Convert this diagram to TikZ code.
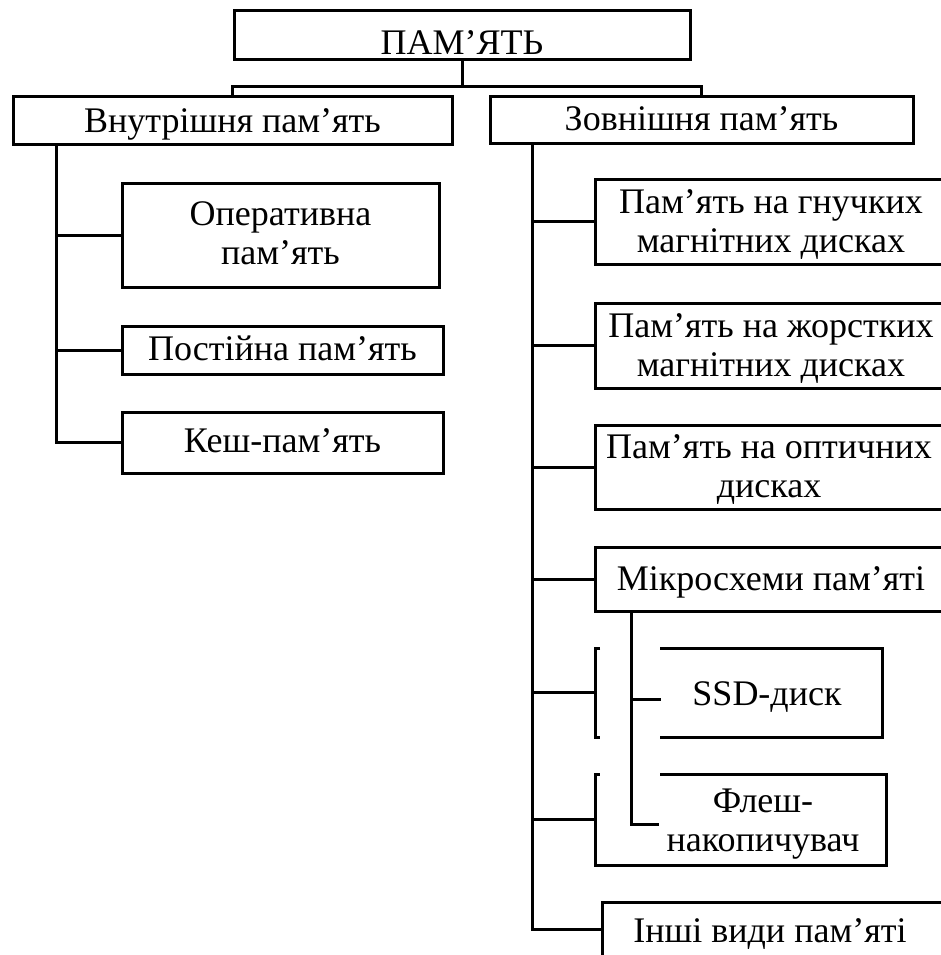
\documentclass[tikz,border=0pt]{standalone}
\usepackage{fontspec}
\setmainfont{Liberation Serif}[Ligatures=Common]
\begin{document}
\begin{tikzpicture}[x=1pt,y=-1pt,line width=3pt,
  txt/.style={font=\fontsize{36}{39}\selectfont, inner sep=0pt, outer sep=0pt, anchor=base, align=center},
  frame/.style={draw, rectangle, inner sep=0pt, outer sep=0pt},
  area/.style={rectangle, inner sep=0pt, outer sep=0pt}]
\useasboundingbox (0,0) rectangle (941,955);
\clip (0,0) rectangle (941,955);
% closed boxes
\node[frame, minimum width=456pt, minimum height=49pt] (top) at (462,35.5) {};
\node[frame, minimum width=439pt, minimum height=47pt] (L) at (232.5,120.5) {};
\node[frame, minimum width=423pt, minimum height=46pt] (R) at (701.5,120) {};
\node[frame, minimum width=317pt, minimum height=104pt] (op) at (280.5,235) {};
\node[frame, minimum width=321pt, minimum height=48pt] (post) at (282.5,350) {};
\node[frame, minimum width=321pt, minimum height=61pt] (kesh) at (282.5,442.5) {};
% open boxes (areas)
\node[area, minimum width=346pt, minimum height=85pt] (b1) at (768,221.5) {};
\node[area, minimum width=346pt, minimum height=85pt] (b2) at (768,345.5) {};
\node[area, minimum width=346pt, minimum height=84pt] (b3) at (768,467) {};
\node[area, minimum width=346pt, minimum height=64pt] (mik) at (768,579) {};
\node[area, minimum width=287pt, minimum height=89pt] (ssd) at (738.5,692.5) {};
\node[area, minimum width=291pt, minimum height=91pt] (fl) at (740.5,819.5) {};
\node[area, minimum width=339pt, minimum height=54pt] (oth) at (771.5,929) {};
% texts (base = baseline of last line)
\node[txt] (ttop) at (462,55) {ПАМ’ЯТЬ};
\node[txt] (tL) at (232.5,132) {Внутрішня пам’ять};
\node[txt] (tR) at (701.5,131) {Зовнішня пам’ять};
\node[txt] (top-t) at (280.5,264) {Оперативна\\пам’ять};
\node[txt] (tpost) at (282.5,360) {Постійна пам’ять};
\node[txt] (tkesh) at (282.5,452) {Кеш-пам’ять};
\node[txt] (tb1) at (771,252) {Пам'ять на гнучких\\магнітних дисках};
\node[txt] (tb2) at (771,376) {Пам’ять на жорстких\\магнітних дисках};
\node[txt] (tb3) at (769,497) {Пам’ять на оптичних\\дисках};
\node[txt] (tmik) at (771,590) {Мікросхеми пам’яті};
\node[txt] (tssd) at (767,705) {SSD-диск};
\node[txt] (tfl) at (763,851) {Флеш-\\накопичувач};
\node[txt] (toth) at (770,942) {Інші види пам’яті};
% open box outlines
\foreach \n in {b1,b2,b3,mik}
  \draw (\n.north east) -- (\n.north west) -- (\n.south west) -- (\n.south east);
\draw ([xshift=5pt]ssd.north west) -- (ssd.north west) -- (ssd.south west) -- ([xshift=5pt]ssd.south west);
\draw ([xshift=65pt]ssd.north west) -- (ssd.north east) -- (ssd.south east) -- ([xshift=65pt]ssd.south west);
\draw ([xshift=65pt]fl.north west) -- (fl.north east) -- (fl.south east) -- (fl.south west) -- (fl.north west) -- ([xshift=5pt]fl.north west);
\draw (oth.north east) -- (oth.north west) -- (oth.south west);
% connectors
\coordinate (lx) at (56,0);
\coordinate (rx) at (532,0);
\coordinate (sx) at (631,0);
\coordinate (flin) at (659,824);
\coordinate (ssdin) at (661,699);
\draw (top.south) -- ++(0,27);
\draw (L.north) -- ++(0,-10) -| (R.north);
\draw (L.south -| lx) |- (kesh.west);
\draw (op.west -| lx) -- (op.west);
\draw (post.west -| lx) -- (post.west);
\draw (R.south -| rx) |- (oth.west);
\foreach \n in {b1,b2,b3,mik,ssd,fl}
  \draw (\n.west -| rx) -- (\n.west);
\draw (mik.south -| sx) |- (flin);
\draw (ssdin -| sx) -- (ssdin);
\end{tikzpicture}
\end{document}
